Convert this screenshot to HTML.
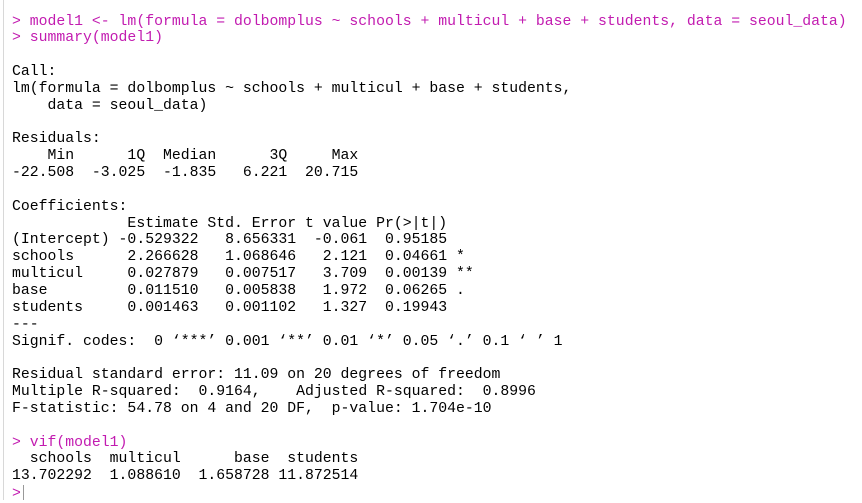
<!DOCTYPE html>
<html><head><meta charset="utf-8"><style>
html,body{margin:0;padding:0;background:#fff;width:862px;height:500px;overflow:hidden}
#console{position:absolute;top:0;width:859px;height:500px;border-left:1px solid #d8d8d8;left:3px}
pre{position:absolute;left:8px;top:13.5px;margin:0;font-family:"Liberation Mono",monospace;font-size:14.8px;line-height:16.85px;color:#000}
.in{color:#c21bb0}
.cur{display:inline-block;width:1px;height:15px;background:#999;vertical-align:-3px;margin-left:2px}
</style></head><body>
<div id="console">
<pre><span class="in">&gt; model1 &lt;- lm(formula = dolbomplus ~ schools + multicul + base + students, data = seoul_data)</span>
<span class="in">&gt; summary(model1)</span>

Call:
lm(formula = dolbomplus ~ schools + multicul + base + students, 
    data = seoul_data)

Residuals:
    Min      1Q  Median      3Q     Max 
-22.508  -3.025  -1.835   6.221  20.715 

Coefficients:
             Estimate Std. Error t value Pr(&gt;|t|)   
(Intercept) -0.529322   8.656331  -0.061  0.95185   
schools      2.266628   1.068646   2.121  0.04661 * 
multicul     0.027879   0.007517   3.709  0.00139 **
base         0.011510   0.005838   1.972  0.06265 . 
students     0.001463   0.001102   1.327  0.19943   
---
Signif. codes:  0 ‘***’ 0.001 ‘**’ 0.01 ‘*’ 0.05 ‘.’ 0.1 ‘ ’ 1

Residual standard error: 11.09 on 20 degrees of freedom
Multiple R-squared:  0.9164,	Adjusted R-squared:  0.8996 
F-statistic: 54.78 on 4 and 20 DF,  p-value: 1.704e-10

<span class="in">&gt; vif(model1)</span>
  schools  multicul      base  students 
13.702292  1.088610  1.658728 11.872514 
<span class="in">&gt;<span class="cur"></span></span></pre>
</div>
</body></html>
